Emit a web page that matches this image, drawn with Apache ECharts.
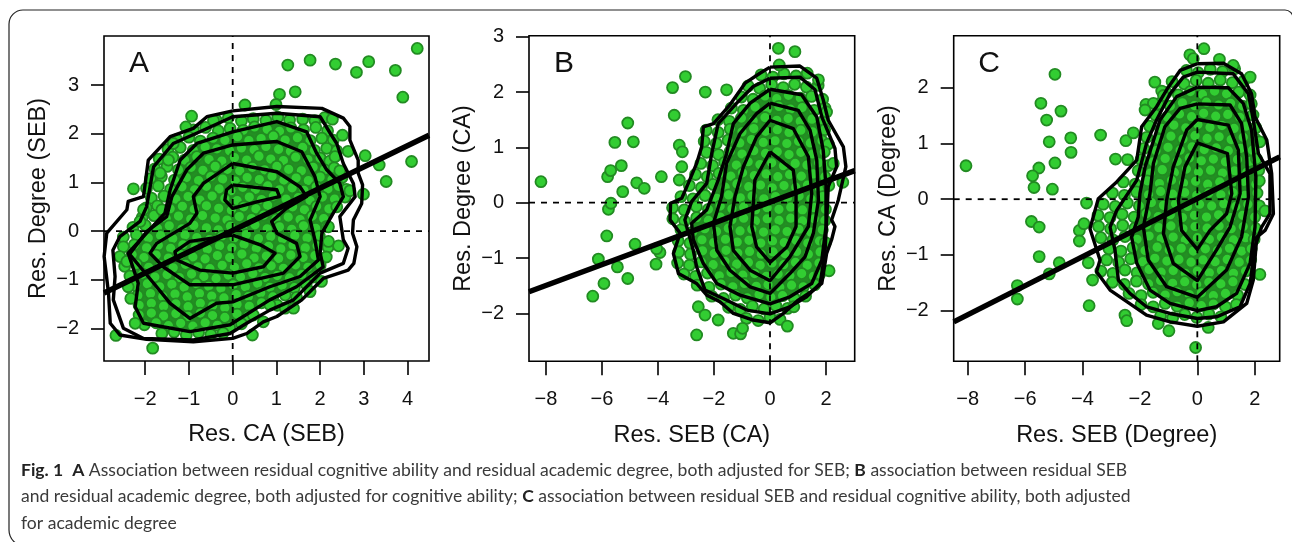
<!DOCTYPE html>
<html><head><meta charset="utf-8">
<style>html,body{margin:0;padding:0;background:#fff}#c{width:1292px;height:542px}</style>
<script src="https://cdn.jsdelivr.net/npm/echarts@6/dist/echarts.min.js"></script>
</head><body><div id="c"></div>
<script>
// ---------- panel A ----------
const xTicksA=[-2,-1,0,1,2,3,4], yTicksA=[-2,-1,0,1,2,3];
const outliersA=[4.22,3.75,1.26,3.41,1.77,3.51,2.35,3.43,2.83,3.26,3.11,3.48,3.72,3.3,3.89,2.75,1.07,2.81,1.43,2.86,.28,2.59,.99,2.6,-.94,2.36,-1.07,2.14,-1.36,1.8,-2.27,.87,-2.67,-2.14,-1.83,-2.4,.45,-2.13,3.03,1.55,3.35,1.36,4.09,1.43,3.51,1.02,2.99,.76,2.68,.83,2.45,1.24,2.64,1.64,2.51,1.97,2.28,2.3,2.34,1.53,2.42,-.3,2.03,-1.03,2.19,-.21,2.19,.09,1.77,-1.24,1.2,-1.58,1.39,-1.58,.85,-1.51,.47,-1.72,.7,-1.86,-2.42,-.62,-2.39,-1.14,-2.33,-1.38,-2.23,-1.89,-2.04,.44,-2.12,.2,-1.62,.44,-1.66,1.19,-1.47,1.46,-.44,2.27];
const cloudA=[
-.38,2.28,-.1,2.33,.2,2.26,.47,2.31,.76,2.27,1.03,2.34,1.3,2.28,1.6,2.3,1.88,2.27,2.1,2.33,
-.9,2.08,-.62,2.13,-.33,2.06,-.06,2.11,.24,2.07,.5,2.14,.79,2.09,1.07,2.05,1.33,2.12,1.62,2.08,1.9,2.13,2.17,2.06,
-1.28,1.88,-1,1.93,-.74,1.85,-.45,1.91,-.18,1.87,.11,1.94,.37,1.86,.65,1.9,.93,1.95,1.2,1.87,1.48,1.92,1.77,1.86,2.04,1.91,2.3,1.87,
-1.48,1.68,-1.2,1.72,-.9,1.66,-.63,1.73,-.36,1.69,-.07,1.65,.2,1.71,.49,1.67,.76,1.74,1.05,1.68,1.32,1.64,1.6,1.72,1.87,1.66,2.15,1.7,2.38,1.65,
-1.68,1.48,-1.37,1.52,-1.1,1.46,-.82,1.53,-.54,1.47,-.25,1.44,.04,1.51,.32,1.46,.6,1.54,.87,1.48,1.16,1.45,1.44,1.52,1.72,1.47,2,1.5,2.22,1.44,
-1.78,1.28,-1.5,1.33,-1.24,1.26,-.95,1.31,-.68,1.25,-.4,1.33,-.12,1.27,.16,1.24,.45,1.31,.73,1.26,1.01,1.33,1.28,1.27,1.57,1.24,1.84,1.31,2.1,1.26,2.32,1.3,
-1.88,1.08,-1.63,1.12,-1.33,1.05,-1.06,1.1,-.78,1.04,-.5,1.12,-.23,1.07,.06,1.03,.33,1.1,.61,1.06,.9,1.13,1.17,1.05,1.45,1.09,1.73,1.04,2,1.11,2.27,1.06,2.5,1.1,
-1.97,.88,-1.7,.93,-1.42,.86,-1.16,.91,-.87,.85,-.6,.92,-.31,.87,-.04,.83,.23,.9,.52,.86,.8,.93,1.07,.85,1.36,.89,1.63,.84,1.91,.91,2.18,.87,2.42,.92,2.6,.86,
-1.86,.68,-1.57,.72,-1.3,.66,-1.02,.71,-.75,.64,-.47,.72,-.18,.67,.1,.63,.38,.7,.66,.65,.93,.72,1.22,.66,1.5,.69,1.77,.63,2.05,.7,2.33,.66,2.57,.7,
-1.98,.48,-1.72,.52,-1.43,.46,-1.15,.51,-.88,.45,-.6,.52,-.32,.47,-.03,.43,.25,.5,.53,.46,.8,.53,1.08,.45,1.37,.5,1.64,.44,1.92,.51,2.2,.46,2.38,.5,
-2.07,.28,-1.8,.32,-1.52,.26,-1.24,.31,-.96,.25,-.69,.32,-.4,.27,-.13,.23,.15,.3,.43,.26,.71,.33,.99,.25,1.27,.29,1.54,.24,1.82,.31,2.08,.26,
-2.28,.08,-2,.12,-1.72,.06,-1.45,.11,-1.16,.05,-.89,.12,-.6,.07,-.33,.03,-.05,.1,.23,.06,.51,.13,.79,.05,1.07,.09,1.35,.04,1.62,.11,1.9,.06,2.15,.1,
-2.5,-.12,-2.2,-.08,-1.93,-.14,-1.65,-.09,-1.37,-.15,-1.09,-.08,-.82,-.13,-.53,-.17,-.25,-.1,.03,-.14,.31,-.07,.59,-.15,.87,-.11,1.14,-.16,1.42,-.09,1.7,-.14,1.98,-.1,
-2.5,-.32,-2.25,-.28,-1.97,-.34,-1.7,-.29,-1.42,-.35,-1.14,-.28,-.86,-.33,-.58,-.37,-.3,-.3,-.02,-.34,.26,-.27,.54,-.35,.82,-.31,1.1,-.36,1.38,-.29,1.66,-.34,1.93,-.3,2.18,-.33,
-2.58,-.52,-2.3,-.48,-2.03,-.54,-1.75,-.49,-1.47,-.55,-1.19,-.48,-.91,-.53,-.63,-.57,-.35,-.5,-.07,-.54,.21,-.47,.49,-.55,.77,-.51,1.05,-.56,1.33,-.49,1.61,-.54,1.88,-.5,2.14,-.53,
-2.47,-.72,-2.2,-.68,-1.92,-.74,-1.64,-.69,-1.36,-.75,-1.08,-.68,-.8,-.73,-.52,-.77,-.24,-.7,.04,-.74,.32,-.67,.6,-.75,.88,-.71,1.16,-.76,1.44,-.69,1.72,-.74,2,-.7,
-2.35,-.92,-2.06,-.88,-1.78,-.94,-1.5,-.89,-1.22,-.95,-.94,-.88,-.66,-.93,-.38,-.97,-.1,-.9,.18,-.94,.46,-.87,.74,-.95,1.02,-.91,1.3,-.96,1.58,-.89,1.84,-.94,
-2.22,-1.12,-1.95,-1.08,-1.67,-1.14,-1.39,-1.09,-1.11,-1.15,-.83,-1.08,-.55,-1.13,-.27,-1.17,.01,-1.1,.29,-1.14,.57,-1.07,.85,-1.15,1.13,-1.11,1.41,-1.16,1.68,-1.09,
-2.17,-1.32,-1.88,-1.28,-1.6,-1.34,-1.32,-1.29,-1.04,-1.35,-.76,-1.28,-.48,-1.33,-.2,-1.37,.08,-1.3,.36,-1.34,.64,-1.27,.92,-1.35,1.2,-1.31,1.46,-1.36,
-2.14,-1.52,-1.86,-1.48,-1.58,-1.54,-1.3,-1.49,-1.02,-1.55,-.74,-1.48,-.46,-1.53,-.18,-1.57,.1,-1.5,.38,-1.54,.66,-1.47,1.02,-1.52,
-2.14,-1.72,-1.86,-1.68,-1.58,-1.74,-1.3,-1.69,-1.02,-1.75,-.74,-1.68,-.46,-1.73,-.18,-1.77,.1,-1.7,.35,-1.74,
-2.02,-1.92,-1.75,-1.88,-1.47,-1.94,-1.19,-1.89,-.91,-1.95,-.63,-1.88,-.35,-1.93,-.07,-1.97,.2,-1.9,
-1.62,-2.1,-1.34,-2.07,-1.06,-2.13,-.78,-2.08,-.5,-2.12,-.22,-2.09];
const contoursA=[
[0,2.47,1.01,2.56,2.04,2.52,2.53,2.32,2.68,2.15,2.68,1.87,2.87,1.46,2.87,1.19,2.97,.95,2.95,.57,2.76,.23,2.74,-.04,2.84,-.32,2.77,-.66,2.64,-.8,2.07,-.97,1.88,-1.14,1.58,-1.41,1.01,-1.75,.7,-1.86,.32,-2.1,0,-2.2,-.9,-2.27,-1.97,-2.22,-2.58,-2.13,-2.8,-1.89,-2.84,-1.27,-2.94,-.52,-2.88,-.04,-2.42,.44,-2.39,.61,-2.04,.71,-1.93,1.46,-1.43,1.94,-.9,2.11,-.59,2.35],
[0,2.35,1.01,2.42,2,2.35,2.23,2.01,2.38,1.8,2.53,1.39,2.76,.98,2.8,.71,2.45,.3,2.53,-.18,2.64,-.35,2.53,-.66,2,-.86,1.69,-1.14,1.39,-1.41,.85,-1.62,.32,-1.89,-.06,-2.1,-.9,-2.23,-2.04,-2.2,-2.5,-1.99,-2.73,-1.41,-2.69,-.93,-2.74,-.39,-2.58,-.11,-2.12,.2,-1.97,.5,-1.81,1.32,-1.36,1.8,-.75,2.04],
[0,2.04,1.01,2.25,1.69,2.04,1.92,1.6,2.15,1.26,2.45,.98,2.53,.71,2.3,.37,2.04,-.04,2,-.45,2.07,-.73,1.46,-1.14,.85,-1.41,-.06,-1.92,-.98,-2.06,-2.04,-1.89,-2.23,-1.55,-2.16,-1.07,-2.39,-.45,-1.97,-.04,-1.55,.37,-1.43,.85,-1.2,1.46,-.82,1.8],
[0,1.77,1.01,1.84,1.58,1.63,1.88,1.12,2,.71,1.77,.23,1.88,-.18,1.96,-.59,1.54,-.93,.85,-1.14,0,-1.45,-.37,-1.48,-.98,-1.79,-1.43,-1.48,-1.74,-1.14,-2.12,-.73,-2.36,-.47,-1.97,-.01,-1.51,.3,-1.39,.71,-1.05,1.26,-.67,1.6],
[0,1.39,1.01,1.22,1.54,.91,1.69,.71,1.23,.47,.89,.2,1.01,-.04,1.46,-.25,1.54,-.52,1.16,-.86,0,-1.1,-.98,-1.1,-1.59,-.73,-1.89,-.45,-1.74,-.25,-.98,.16,-.82,.37,-.9,.71,-.67,.98],
[0,.95,1.01,.85,1.07,.71,.55,.6,0,.47,-.18,.64,-.14,.85],
[0,-.08,.63,-.28,.97,-.45,.7,-.73,0,-.86,-.75,-.8,-1.28,-.59,-1.32,-.42,-.98,-.21]];
const fitA=[-2.943,-1.27,4.489,1.97];
// ---------- panel B ----------
const xTicksB=[-8,-6,-4,-2,0,2], yTicksB=[-2,-1,0,1,2,3];
const outliersB=[-8.18,.38,-6.33,-1.69,-5.93,-1.46,-6.13,-1.02,-5.83,-.6,-5.77,-.12,-5.68,-.01,-5.8,.47,-5.69,.58,-5.31,.67,-5.26,.2,-4.76,.36,-4.49,.26,-5.54,1.09,-4.88,1.1,-5.08,1.44,-5.45,-1.16,-5.08,-1.37,-4.82,-.75,-4.07,-1.11,-3.93,-.9,-4.05,-.83,-3.88,.47,-3.48,2.08,-3.02,2.28,-3.42,1.58,-2.31,2,-1.55,2.04,-3.24,1.04,-3.13,.92,-3.15,.65,-3.24,.41,-2.62,-2.39,-2.56,-1.88,-2.32,-2.03,-1.85,-2.12,-1.31,-2.36,-1.05,-2.37,-.98,-2.27,.62,-2.23,2.11,-1.23,.3,2.79,.89,2.73,.33,2.49,2.6,.37,1.73,2.22,2.02,1.64,2.26,.71];
const cloudB=[
-.32,2.31,.1,2.27,.5,2.33,.93,2.29,1.33,2.34,
-.78,2.11,-.37,2.07,.06,2.13,.47,2.08,.88,2.14,1.3,2.09,1.72,2.12,
-1.02,1.91,-.6,1.87,-.18,1.93,.24,1.88,.66,1.94,1.08,1.89,1.48,1.92,1.88,1.87,
-1.38,1.71,-.95,1.67,-.53,1.73,-.1,1.68,.32,1.74,.73,1.69,1.15,1.72,1.58,1.67,1.96,1.71,
-1.86,1.5,-1.45,1.47,-1.02,1.53,-.6,1.48,-.18,1.54,.24,1.49,.65,1.52,1.08,1.47,1.5,1.51,1.92,1.48,
-2.28,1.31,-1.85,1.27,-1.42,1.33,-1,1.28,-.58,1.34,-.16,1.29,.26,1.32,.68,1.27,1.1,1.31,1.52,1.28,1.95,1.32,
-2.35,1.11,-1.92,1.07,-1.5,1.13,-1.08,1.08,-.66,1.14,-.24,1.09,.18,1.12,.6,1.07,1.02,1.11,1.44,1.08,1.86,1.12,2.08,1.06,
-2.27,.91,-1.84,.87,-1.42,.93,-1,.88,-.58,.94,-.16,.89,.26,.92,.68,.87,1.1,.91,1.52,.88,1.94,.92,
-2.47,.71,-2.05,.67,-1.62,.73,-1.2,.68,-.78,.74,-.36,.69,.06,.72,.48,.67,.9,.71,1.32,.68,1.74,.72,2.08,.67,
-2.66,.51,-2.24,.47,-1.82,.53,-1.4,.48,-.98,.54,-.56,.49,-.14,.52,.28,.47,.7,.51,1.12,.48,1.54,.52,1.96,.47,
-2.88,.31,-2.45,.27,-2.03,.33,-1.6,.28,-1.18,.34,-.76,.29,-.34,.32,.08,.27,.5,.31,.92,.28,1.34,.32,1.76,.27,2.1,.31,
-3.18,.11,-2.75,.07,-2.32,.13,-1.9,.08,-1.48,.14,-1.06,.09,-.64,.12,-.22,.07,.2,.11,.62,.08,1.04,.12,1.46,.07,1.88,.11,
-3.48,-.09,-3.06,-.13,-2.63,-.07,-2.2,-.12,-1.78,-.06,-1.36,-.11,-.94,-.08,-.52,-.13,-.1,-.09,.32,-.12,.74,-.08,1.16,-.13,1.58,-.09,1.98,-.12,
-3.47,-.29,-3.05,-.33,-2.62,-.27,-2.2,-.32,-1.78,-.26,-1.36,-.31,-.94,-.28,-.52,-.33,-.1,-.29,.32,-.32,.74,-.28,1.16,-.33,1.58,-.29,1.96,-.32,
-3.18,-.49,-2.76,-.53,-2.33,-.47,-1.91,-.52,-1.49,-.46,-1.07,-.51,-.65,-.48,-.23,-.53,.19,-.49,.61,-.52,1.03,-.48,1.45,-.53,1.87,-.49,
-3.28,-.69,-2.86,-.73,-2.43,-.67,-2.01,-.72,-1.59,-.66,-1.17,-.71,-.75,-.68,-.33,-.73,.09,-.69,.51,-.72,.93,-.68,1.35,-.73,1.77,-.69,1.98,-.72,
-3.26,-.89,-2.84,-.93,-2.41,-.87,-1.99,-.92,-1.57,-.86,-1.15,-.91,-.73,-.88,-.31,-.93,.11,-.89,.53,-.92,.95,-.88,1.37,-.93,1.79,-.89,
-3.3,-1.09,-2.88,-1.13,-2.45,-1.07,-2.03,-1.12,-1.61,-1.06,-1.19,-1.11,-.77,-1.08,-.35,-1.13,.07,-1.09,.49,-1.12,.91,-1.08,1.33,-1.13,1.75,-1.09,
-3.08,-1.29,-2.66,-1.33,-2.23,-1.27,-1.81,-1.32,-1.39,-1.26,-.97,-1.31,-.55,-1.28,-.13,-1.33,.29,-1.29,.71,-1.32,1.13,-1.28,1.55,-1.33,1.78,-1.29,
-2.6,-1.49,-2.18,-1.53,-1.75,-1.47,-1.33,-1.52,-.91,-1.46,-.49,-1.51,-.07,-1.48,.35,-1.53,.77,-1.49,1.19,-1.52,1.6,-1.48,
-2.08,-1.69,-1.66,-1.73,-1.23,-1.67,-.81,-1.72,-.39,-1.66,.03,-1.71,.45,-1.68,.87,-1.73,1.27,-1.69,
-1.48,-1.89,-1.06,-1.93,-.63,-1.87,-.21,-1.92,.21,-1.86,.63,-1.91,.85,-1.88,
-.84,-2.09,-.42,-2.13,0,-2.07,.36,-2.11];
const contoursB=[
[0,2.45,1.07,2.47,1.67,2.25,1.9,1.86,2.08,1.49,2.62,1.01,2.71,.65,2.44,.05,2.2,-.31,2.32,-.43,2.2,-.67,2.02,-.92,1.85,-1.46,1.55,-1.58,1.01,-1.76,.48,-2,0,-2.17,-.6,-2.12,-1.31,-2,-1.79,-1.79,-2.26,-1.67,-2.62,-1.46,-3.27,-1.28,-3.45,-.92,-3.21,-.55,-3.57,-.31,-3.55,-.01,-3.15,.08,-2.92,.35,-2.62,.71,-2.44,1.01,-2.38,1.37,-2.02,1.43,-1.43,1.77,-.89,2.16,-.36,2.34],
[0,2.25,1.07,2.27,1.61,2.04,1.85,1.55,2.32,.98,2.38,.65,2.08,.29,2.02,-.37,1.96,-.92,1.79,-1.46,1.31,-1.7,.71,-1.88,0,-2.01,-.83,-1.94,-1.67,-1.73,-2.32,-1.58,-2.62,-1.16,-2.74,-.86,-3.04,-.31,-2.8,.02,-2.26,.35,-2.08,.89,-1.85,1.43,-1.19,1.8,-.6,2.1],
[0,2.05,1.13,1.95,1.67,1.55,1.9,.95,2,.29,2,-.43,1.85,-1.04,1.49,-1.46,.71,-1.7,0,-1.83,-1.07,-1.67,-1.9,-1.46,-2.38,-1.1,-2.74,-.67,-2.8,-.37,-2.26,-.13,-1.85,.41,-1.55,.89,-1.31,1.43,-.71,1.8],
[0,1.8,1.01,1.67,1.43,1.31,1.67,.77,1.73,.05,1.55,-.55,1.25,-.98,.71,-1.28,0,-1.64,-.71,-1.52,-1.43,-1.22,-1.9,-.86,-2.02,-.37,-1.73,.11,-1.55,.71,-1.07,1.25,-.48,1.61],
[0,1.49,.83,1.34,1.37,.83,1.49,.17,1.37,-.43,.71,-.98,0,-1.41,-.71,-1.22,-1.31,-.86,-1.43,-.43,-1.25,.11,-.95,.65,-.48,1.19],
[0,.92,.83,.59,.93,.17,.93,-.43,.6,-.8,0,-1.08,-.48,-.8,-.65,-.43,-.54,.41]];
const fitB=[-8.607,-1.61,3.025,.58];
// ---------- panel C ----------
const xTicksC=[-8,-6,-4,-2,0,2], yTicksC=[-2,-1,0,1,2];
const outliersC=[-8.06,.6,-4.96,2.24,-5.45,1.72,-4.75,1.58,-5.25,1.42,-5.16,1.03,-4.41,1.1,-4.4,.84,-4.96,.65,-5.52,.56,-5.74,.42,-5.69,.21,-5.05,.18,-5.78,-.4,-5.51,-.5,-5.51,-1.03,-4.81,-1.14,-5.16,-1.34,-6.27,-1.55,-6.27,-1.79,-3.86,-.07,-4.11,-.56,-4.11,-.75,-3.95,-.44,-3.37,1.15,-2.85,.72,-2.49,1.05,-2.23,1.19,-2.43,.71,-3.8,-1.14,-3.65,-1.45,-3.77,-1.91,-2.52,-2.08,-2.46,-2.18,-1.36,-2.23,-.99,-2.36,.38,-2.3,-.06,-2.66,.23,2.7,-.26,2.59,-.14,2.52,.77,2.51,1.25,2.4,1.84,2.19,-1.48,2.1,-1.24,1.94,-1.18,1.86,-1.79,1.7,-1.53,1.72,-1.82,1.6,2.18,-1.35,2.36,-.21,2.18,1.03,2.16,.33];
const cloudC=[
-.38,2.31,.03,2.27,.45,2.33,.88,2.29,1.3,2.34,
-.88,2.11,-.46,2.07,-.04,2.13,.38,2.08,.8,2.14,1.22,2.09,1.62,2.12,
-1.08,1.91,-.66,1.87,-.24,1.93,.18,1.88,.6,1.94,1.02,1.89,1.44,1.92,1.84,1.87,
-1.36,1.71,-.94,1.67,-.52,1.73,-.1,1.68,.32,1.74,.74,1.69,1.16,1.72,1.58,1.67,1.88,1.71,
-1.46,1.51,-1.04,1.47,-.62,1.53,-.2,1.48,.22,1.54,.64,1.49,1.06,1.52,1.48,1.47,1.94,1.51,
-1.66,1.31,-1.24,1.27,-.82,1.33,-.4,1.28,.02,1.34,.44,1.29,.86,1.32,1.28,1.27,1.7,1.31,2.04,1.28,
-1.76,1.11,-1.34,1.07,-.92,1.13,-.5,1.08,-.08,1.14,.34,1.09,.76,1.12,1.18,1.07,1.6,1.11,2.02,1.08,
-1.86,.91,-1.44,.87,-1.02,.93,-.6,.88,-.18,.94,.24,.89,.66,.92,1.08,.87,1.5,.91,1.92,.88,
-1.96,.71,-1.54,.67,-1.12,.73,-.7,.68,-.28,.74,.14,.69,.56,.72,.98,.67,1.4,.71,1.82,.68,2.06,.72,
-2.06,.51,-1.64,.47,-1.22,.53,-.8,.48,-.38,.54,.04,.49,.46,.52,.88,.47,1.3,.51,1.72,.48,2.14,.52,
-2.58,.31,-2.16,.27,-1.74,.33,-1.32,.28,-.9,.34,-.48,.29,-.06,.32,.36,.27,.78,.31,1.2,.28,1.62,.32,2.04,.27,
-2.96,.11,-2.54,.07,-2.12,.13,-1.7,.08,-1.28,.14,-.86,.09,-.44,.12,-.02,.07,.4,.11,.82,.08,1.24,.12,1.66,.07,2.08,.11,
-3.28,-.09,-2.86,-.13,-2.44,-.07,-2.02,-.12,-1.6,-.06,-1.18,-.11,-.76,-.08,-.34,-.13,.08,-.09,.5,-.12,.92,-.08,1.34,-.13,1.76,-.09,2.16,-.12,
-3.46,-.29,-3.04,-.33,-2.62,-.27,-2.2,-.32,-1.78,-.26,-1.36,-.31,-.94,-.28,-.52,-.33,-.1,-.29,.32,-.32,.74,-.28,1.16,-.33,1.58,-.29,2,-.32,
-3.44,-.49,-3.02,-.53,-2.6,-.47,-2.18,-.52,-1.76,-.46,-1.34,-.51,-.92,-.48,-.5,-.53,-.08,-.49,.34,-.52,.76,-.48,1.18,-.53,1.6,-.49,2.02,-.52,
-3.36,-.69,-2.94,-.73,-2.52,-.67,-2.1,-.72,-1.68,-.66,-1.26,-.71,-.84,-.68,-.42,-.73,0,-.69,.42,-.72,.84,-.68,1.26,-.73,1.68,-.69,1.98,-.72,
-3.08,-.89,-2.66,-.93,-2.24,-.87,-1.82,-.92,-1.4,-.86,-.98,-.91,-.56,-.88,-.14,-.93,.28,-.89,.7,-.92,1.12,-.88,1.54,-.93,1.88,-.89,
-3.16,-1.09,-2.74,-1.13,-2.32,-1.07,-1.9,-1.12,-1.48,-1.06,-1.06,-1.11,-.64,-1.08,-.22,-1.13,.2,-1.09,.62,-1.12,1.04,-1.08,1.46,-1.13,1.86,-1.09,
-3.36,-1.29,-2.94,-1.33,-2.52,-1.27,-2.1,-1.32,-1.68,-1.26,-1.26,-1.31,-.84,-1.28,-.42,-1.33,0,-1.29,.42,-1.32,.84,-1.28,1.26,-1.33,1.68,-1.29,
-2.96,-1.49,-2.54,-1.53,-2.12,-1.47,-1.7,-1.52,-1.28,-1.46,-.86,-1.51,-.44,-1.48,-.02,-1.53,.4,-1.49,.82,-1.52,1.24,-1.48,1.66,-1.53,
-2.38,-1.69,-1.96,-1.73,-1.54,-1.67,-1.12,-1.72,-.7,-1.66,-.28,-1.71,.14,-1.68,.56,-1.73,.98,-1.69,1.4,-1.72,
-1.96,-1.89,-1.54,-1.93,-1.12,-1.87,-.7,-1.92,-.28,-1.86,.14,-1.91,.56,-1.88,.98,-1.93,1.36,-1.89,
-1.28,-2.09,-.86,-2.13,-.44,-2.07,-.02,-2.12,.4,-2.06,.82,-2.11];
const contoursC=[
[0,2.43,.91,2.44,1.54,2.25,1.89,1.89,2.01,1.48,2.42,1.06,2.59,.46,2.65,-.26,2.36,-.56,2.07,-.68,1.95,-1.45,1.72,-1.87,.91,-2.2,0,-2.28,-.95,-2.2,-1.77,-2.08,-3.04,-1.63,-3.51,-1.3,-3.39,-1.09,-3.74,-.53,-3.45,.01,-2.81,.31,-2.11,.7,-1.94,1.3,-1.42,1.66,-1.01,2.01,-.6,2.31],
[0,2.28,1.25,2.25,1.78,1.89,1.95,1.42,2.13,.82,2.53,.46,2.53,-.26,2.24,-.5,2.01,-.85,1.84,-1.51,1.49,-1.93,.67,-2.11,0,-2.14,-.95,-2.05,-1.77,-1.93,-2.35,-1.69,-2.75,-1.45,-2.87,-.91,-3.04,-.5,-2.81,-.2,-2.11,.34,-1.77,1,-1.42,1.42,-.95,1.89,-.49,2.19],
[0,2.01,1.08,2,1.6,1.72,1.89,1.24,2.04,.4,2.01,-.5,1.84,-1.15,1.37,-1.69,.67,-1.93,0,-2,-.95,-1.87,-1.65,-1.63,-2.11,-1.15,-2.29,-.68,-2.06,-.32,-2,.1,-1.82,.58,-1.3,1.42,-.72,1.84],
[0,1.71,1.14,1.69,1.54,1.36,1.72,.76,1.78,.04,1.54,-.68,1.02,-1.27,0,-1.76,-1.07,-1.57,-1.71,-1.09,-1.88,-.5,-1.65,.1,-1.53,.64,-1.13,1.3,-.6,1.63],
[0,1.43,1.08,1.33,1.43,.88,1.49,.1,1.14,-.5,.67,-.91,0,-1.46,-.84,-1.15,-1.18,-.62,-1.07,-.02,-.84,.58,-.37,1.24],
[0,1.01,1.05,.82,1.2,.1,1.02,-.26,.44,-.56,0,-.9,-.55,-.56,-.66,-.02,-.43,.58]];
const fitC=[-8.488,-2.2,2.87,.76];
// ---------- text ----------
const captionLines=[
 '{b|Fig. 1}  {b|A} Association between residual cognitive ability and residual academic degree, both adjusted for SEB; {b|B} association between residual SEB',
 'and residual academic degree, both adjusted for cognitive ability; {b|C} association between residual SEB and residual cognitive ability, both adjusted',
 'for academic degree'];

const panels=[
 {tag:'A',xName:'Res. CA (SEB)',yName:'Res. Degree (SEB)',xTicks:xTicksA,yTicks:yTicksA,out:outliersA,cloud:cloudA,cont:contoursA,fit:fitA,
  xr:[-2.943,4.489],yr:[-2.664,4.006],box:[104,36,325,325]},
 {tag:'B',xName:'Res. SEB (CA)',yName:'Res. Degree (CA)',xTicks:xTicksB,yTicks:yTicksB,out:outliersB,cloud:cloudB,cont:contoursB,fit:fitB,
  xr:[-8.607,3.025],yr:[-2.866,3.018],box:[529,35.7,325.7,325.6]},
 {tag:'C',xName:'Res. SEB (Degree)',yName:'Res. CA (Degree)',xTicks:xTicksC,yTicks:yTicksC,out:outliersC,cloud:cloudC,cont:contoursC,fit:fitC,
  xr:[-8.488,2.87],yr:[-2.908,2.933],box:[953.7,35.7,326,325.6]}];

const pairs=f=>{const r=[];for(let i=0;i<f.length;i+=2)r.push([f[i],f[i+1]]);return r;};
const FONT='"Liberation Sans",Arial,sans-serif';
const minus=v=>String(v).replace('-','\u2212');
const grid=[],xAxis=[],yAxis=[],series=[],graphic=[];
panels.forEach((p,i)=>{
 grid.push({left:p.box[0],top:p.box[1],width:p.box[2],height:p.box[3],show:true,borderColor:'#000',borderWidth:1.6,backgroundColor:'transparent',containLabel:false});
 const common={type:'value',gridIndex:i,splitLine:{show:false},axisLine:{show:false,onZero:false},nameLocation:'middle',
   nameTextStyle:{fontFamily:FONT,fontSize:23.5,color:'#111'}};
 xAxis.push(Object.assign({},common,{min:p.xr[0],max:p.xr[1],name:p.xName,nameGap:62,
   axisTick:{show:true,length:14,lineStyle:{color:'#000',width:1.6},customValues:p.xTicks},
   axisLabel:{show:true,margin:28,fontFamily:FONT,fontSize:20,color:'#111',formatter:minus,customValues:p.xTicks,hideOverlap:false,showMinLabel:true,showMaxLabel:true}}));
 yAxis.push(Object.assign({},common,{min:p.yr[0],max:p.yr[1],name:p.yName,nameGap:53.5,
   axisTick:{show:true,length:13,lineStyle:{color:'#000',width:1.6},customValues:p.yTicks},
   axisLabel:{show:true,margin:25,fontFamily:FONT,fontSize:20,color:'#111',formatter:minus,customValues:p.yTicks,hideOverlap:false,showMinLabel:true,showMaxLabel:true}}));
 const ax={xAxisIndex:i,yAxisIndex:i,silent:true,animation:false};
 // the packed part of the cloud: the overlapping marker rims form a solid dark green
 const under=pairs(p.cont[2]);
 series.push(Object.assign({type:'custom',data:[[0,0]],z:1,encode:{x:0,y:1},
   renderItem:(params,api)=>({type:'polygon',shape:{points:under.map(q=>api.coord(q))},style:{fill:'#238f23'}})},ax));
 series.push(Object.assign({type:'scatter',data:pairs(p.cloud.concat(p.out)),symbol:'circle',symbolSize:11,large:false,z:2,
   itemStyle:{color:'#32CD32',borderColor:'#228B22',borderWidth:1.8,opacity:1}},ax));
 const dash={type:'line',symbol:'none',lineStyle:{color:'#000',width:1.8,type:[6,6]},z:3};
 series.push(Object.assign({},dash,{data:[[p.xr[0],0],[p.xr[1],0]]},ax));
 series.push(Object.assign({},dash,{data:[[0,p.yr[0]],[0,p.yr[1]]]},ax));
 p.cont.forEach(c=>{
  const pts=pairs(c);pts.push(pts[0]);
  series.push(Object.assign({type:'line',data:pts,symbol:'none',smooth:false,z:4,lineStyle:{color:'#000',width:3.4,join:'round'}},ax));
 });
 series.push(Object.assign({type:'line',data:pairs(p.fit),symbol:'none',z:5,lineStyle:{color:'#000',width:5.5}},ax));
});
// panel letters
[['A',139,64],['B',564,64],['C',989,64]].forEach(t=>graphic.push({type:'text',silent:true,x:t[1],y:t[2],z:10,
  style:{text:t[0],fontFamily:FONT,fontSize:30,fill:'#111',align:'center',verticalAlign:'middle'}}));
// frame: rounded box that runs off the right and bottom of the page
graphic.push({type:'rect',silent:true,z:0,shape:{x:9,y:10,width:1284,height:536,r:[14,8,0,16]},
  style:{fill:'none',stroke:'#222',lineWidth:1.2}});
// caption
[470,496.5,523].forEach((y,i)=>graphic.push({type:'text',silent:true,x:21,y:y,z:10,
  style:{text:captionLines[i],fontFamily:'Lato,"Open Sans",sans-serif',fontSize:17.55,fill:'#3a3a3a',verticalAlign:'middle',
    rich:{b:{fontFamily:'Lato,"Open Sans",sans-serif',fontSize:17.55,fontWeight:'bold',fill:'#222'}}}}));

const chart=echarts.init(document.getElementById('c'),null,{renderer:'canvas'});
chart.setOption({animation:false,backgroundColor:'#fff',tooltip:{show:false},grid,xAxis,yAxis,series,graphic});
</script></body></html>
